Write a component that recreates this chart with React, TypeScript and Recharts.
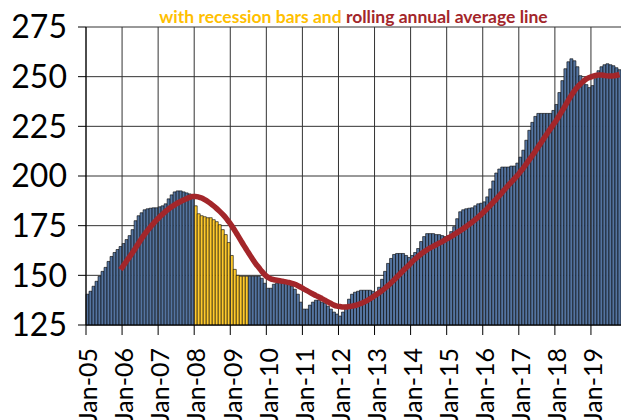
import {
  Bar,
  CartesianGrid,
  Cell,
  ComposedChart,
  Line,
  ReferenceLine,
  XAxis,
  YAxis,
} from "recharts";

const YEARS = ["05", "06", "07", "08", "09", "10", "11", "12", "13", "14", "15", "16", "17", "18", "19"];
const MONTHS = ["Jan", "Feb", "Mar", "Apr", "May", "Jun", "Jul", "Aug", "Sep", "Oct", "Nov", "Dec"];

// monthly index, Jan-05 .. Oct-19
const INDEX_VALUES = [
  140.5, 142, 144.5, 147, 149.5, 152, 154, 157, 159.5, 161.5, 163, 164.5,
  166, 168, 170, 173, 177.5, 180, 181.5, 183, 183.5, 183.8, 184, 184,
  184.5, 185, 186, 188.5, 190.5, 192, 192.5, 192.5, 192, 191.5, 191, 190,
  185, 181, 180, 179.5, 179, 179, 178, 177, 175.5, 173, 170.5, 166.5,
  160, 153, 150, 149.5, 149.5, 149.5, 149.5, 149.5, 149.5, 149.5, 148.5, 146,
  143.5, 143.5, 145.5, 146, 146.5, 146.5, 146, 146, 144.5, 143, 140.5, 136.5,
  133, 133, 135, 136.5, 137.5, 137.5, 136.5, 136, 134.5, 133, 131.5, 130.5,
  129.5, 131.5, 135, 138, 140.5, 141.5, 142, 142.5, 142.5, 142.5, 142.5, 142,
  141.5, 144, 148, 152, 156, 158.5, 160.5, 161, 161, 161, 160, 159,
  160, 161.5, 163.5, 167, 169.5, 171, 171, 171, 170.5, 170.5, 170, 169.5,
  170, 172, 174.5, 178.5, 182, 183, 183.5, 183.8, 184, 185, 186, 186.3,
  187, 189.5, 193.5, 197.5, 201.5, 203.5, 204.5, 204.5, 204.5, 205, 205, 206.5,
  209.5, 213, 218, 223, 227, 230, 231.5, 231.5, 231.5, 231.5, 231.5, 233,
  236, 242, 248, 254, 257.5, 259, 258, 255, 250.5, 247.5, 246, 244.5,
  245.5, 249, 253, 255, 256, 256.5, 256, 255.5, 254.5, 253.5,
];

// rolling annual average line (starts Dec-05)
const ROLLING_AVG = [
  null, null, null, null, null, null, null, null, null, null, null, 152.9,
  155.0, 157.2, 159.3, 161.5, 163.8, 166.2, 168.5, 170.6, 172.6, 174.5, 176.2, 177.9,
  179.4, 180.8, 182.2, 183.4, 184.5, 185.5, 186.4, 187.2, 187.9, 188.6, 189.2, 189.7,
  189.7, 189.4, 188.9, 188.1, 187.2, 186.1, 184.9, 183.6, 182.2, 180.7, 179.0, 177.0,
  174.9, 172.6, 170.1, 167.6, 165.1, 162.7, 160.3, 158.0, 155.8, 153.9, 152.0, 150.3,
  149.0, 148.2, 147.8, 147.5, 147.3, 147.0, 146.7, 146.4, 146.0, 145.5, 144.8, 144.0,
  143.1, 142.3, 141.4, 140.6, 139.8, 139.1, 138.3, 137.5, 136.6, 135.8, 135.0, 134.5,
  134.3, 134.1, 134.1, 134.3, 134.5, 134.8, 135.3, 135.8, 136.5, 137.3, 138.2, 139.2,
  140.2, 141.2, 142.3, 143.5, 144.8, 146.2, 147.7, 149.3, 150.8, 152.3, 153.8, 155.2,
  156.8, 158.2, 159.5, 160.8, 161.9, 162.9, 163.8, 164.6, 165.4, 166.2, 167.0, 167.9,
  168.8, 169.6, 170.5, 171.5, 172.5, 173.5, 174.6, 175.7, 176.8, 178.0, 179.3, 180.7,
  182.1, 183.6, 185.2, 186.8, 188.4, 190.1, 191.8, 193.6, 195.3, 196.9, 198.5, 200.2,
  202.1, 204.0, 206.1, 208.2, 210.3, 212.5, 214.8, 217.0, 219.3, 221.5, 223.7, 225.9,
  228.1, 230.5, 233.0, 235.6, 238.2, 240.6, 242.8, 244.8, 246.3, 247.7, 248.9, 249.6,
  250.2, 250.6, 250.8, 250.8, 250.6, 250.4, 250.3, 250.4, 250.7, 251.1,
];

const RECESSION_START = "Jan-08";
const RECESSION_END = "Jun-09";
const Y_TICKS = [125, 150, 175, 200, 225, 250, 275];

const CATEGORIES = YEARS.flatMap((y) => MONTHS.map((m) => `${m}-${y}`)).slice(0, INDEX_VALUES.length);
const YEAR_TICKS = CATEGORIES.filter((c) => c.startsWith("Jan"));

const data = CATEGORIES.map((month, i) => ({
  month,
  value: INDEX_VALUES[i],
  avg: ROLLING_AVG[i],
}));

const recStart = CATEGORIES.indexOf(RECESSION_START);
const recEnd = CATEGORIES.indexOf(RECESSION_END);

const FONT = "Lato, 'Open Sans', sans-serif";

function YearTick(props: any) {
  const { x, y, payload } = props;
  const x0 = x - (payload?.offset ?? 0);
  return (
    <g>
      <line x1={x0} x2={x0} y1={y} y2={y + 10} stroke="#000" strokeWidth={1} />
      <text
        x={x0}
        y={y + 23}
        transform={`rotate(-90, ${x0}, ${y + 23})`}
        textAnchor="end"
        dy="0.45em"
        fontSize={25}
        fontFamily={FONT}
        fill="#000"
      >
        {payload.value}
      </text>
    </g>
  );
}

export default function App() {
  return (
    <div style={{ position: "absolute", left: 0, top: 0, width: 621, height: 420, background: "#fff" }}>
      <div
        style={{
          position: "absolute",
          left: 0,
          width: 621,
          top: 6,
          textAlign: "center",
          paddingLeft: 86,
          boxSizing: "border-box",
          fontFamily: FONT,
          fontWeight: 700,
          fontSize: 17.5,
          lineHeight: "22px",
          whiteSpace: "nowrap",
        }}
      >
        <span style={{ color: "#FFC000" }}>with recession bars and </span>
        <span style={{ color: "#A3262A" }}>rolling annual average line</span>
      </div>
      <ComposedChart
        width={621}
        height={420}
        data={data}
        margin={{ top: 27, right: 0, bottom: 0, left: 0 }}
        barCategoryGap={0}
        barGap={0}
      >
        <CartesianGrid vertical={false} stroke="#333" strokeWidth={1} />
        <XAxis
          dataKey="month"
          ticks={YEAR_TICKS}
          interval={0}
          height={95}
          tickLine={false}
          tickSize={0}
          tickMargin={0}
          axisLine={{ stroke: "#000" }}
          tick={<YearTick />}
        />
        <YAxis
          domain={[125, 275]}
          ticks={Y_TICKS}
          width={86}
          tickSize={8}
          tickMargin={11}
          tickLine={{ stroke: "#000" }}
          axisLine={{ stroke: "#000" }}
          tick={{ fontSize: 32, fill: "#000", fontFamily: FONT }}
          interval={0}
        />
        <Bar dataKey="value" stroke="#000" strokeWidth={0.6} isAnimationActive={false}>
          {data.map((d, i) => (
            <Cell key={d.month} fill={i >= recStart && i <= recEnd ? "#FFCA2C" : "#5474A0"} />
          ))}
        </Bar>
        {YEAR_TICKS.map((c) => (
          <ReferenceLine key={c} x={c} position="start" stroke="#333" strokeWidth={1} />
        ))}
        <Line
          dataKey="avg"
          type="monotone"
          stroke="#A3262A"
          strokeWidth={5.5}
          dot={false}
          activeDot={false}
          isAnimationActive={false}
        />
      </ComposedChart>
    </div>
  );
}
